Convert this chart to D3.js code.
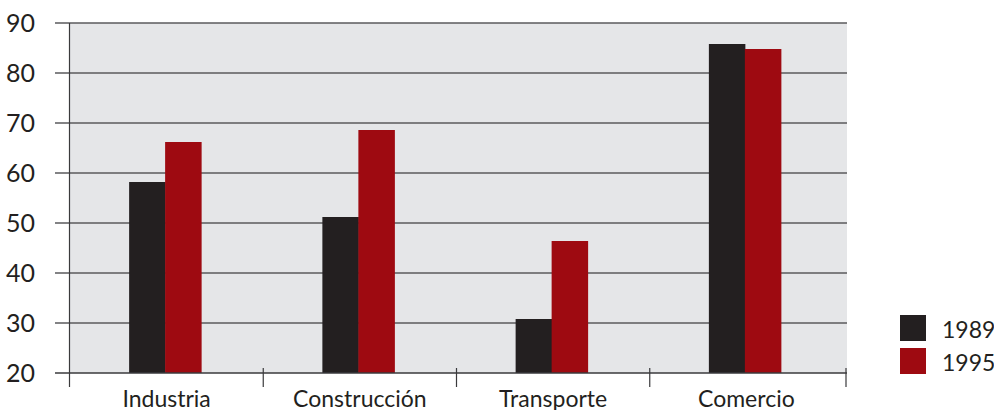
<!DOCTYPE html>
<html>
<head>
<meta charset="utf-8">
<script src="https://cdn.jsdelivr.net/npm/d3@7"></script>
<style>
  html, body { margin: 0; padding: 0; background: white; }
  svg { display: block; }
</style>
</head>
<body>
<div id="chart"></div>
<script>
var
  categories = ["Industria", "Construcción", "Transporte", "Comercio"],
  seriesNames = ["1989", "1995"],
  values1989 = [58.2, 51.2, 30.8, 85.8],
  values1995 = [66.2, 68.6, 46.4, 84.8],
  yTicks = [20, 30, 40, 50, 60, 70, 80, 90];

var
  WIDTH = 994,
  HEIGHT = 410,
  PLOT_LEFT = 70,
  PLOT_RIGHT = 847,
  PLOT_TOP = 23,
  PLOT_BOTTOM = 373,
  // groups are slightly narrower than a quarter of the plot
  GROUP_RIGHT = 843,
  GROUP_WIDTH = 72,
  TEXT_COLOR = "#231f20",
  GRID_COLOR = "#5a5a5c",
  AXIS_COLOR = "#3a3a3c",
  BG_COLOR = "#e5e6e8",
  COLORS = ["#231f20", "#9e0a11"],
  FONT = "Lato, 'Open Sans', sans-serif";

var series = [values1989, values1995];

var svg = d3.select("#chart").append("svg")
  .attr("width", WIDTH)
  .attr("height", HEIGHT);

var x0 = d3.scaleBand()
  .domain(categories)
  .range([PLOT_LEFT, GROUP_RIGHT]);

var x1 = d3.scaleBand()
  .domain(seriesNames)
  .range([0, GROUP_WIDTH]);

var y = d3.scaleLinear()
  .domain([20, 90])
  .range([PLOT_BOTTOM, PLOT_TOP]);

// background of the plot
svg.append("rect")
  .attr("x", PLOT_LEFT)
  .attr("y", PLOT_TOP)
  .attr("width", PLOT_RIGHT - PLOT_LEFT)
  .attr("height", PLOT_BOTTOM - PLOT_TOP)
  .attr("fill", BG_COLOR);

// gridlines with labels
var grid = svg.append("g");
yTicks.forEach(function(t){
  if (t === 20) return;
  grid.append("line")
    .attr("x1", 55)
    .attr("x2", PLOT_RIGHT)
    .attr("y1", y(t))
    .attr("y2", y(t))
    .attr("stroke", GRID_COLOR)
    .attr("stroke-width", 1.6);
});

yTicks.forEach(function(t){
  svg.append("text")
    .attr("x", 6)
    .attr("y", y(t) + 9)
    .attr("font-family", FONT)
    .attr("font-size", 25)
    .attr("fill", TEXT_COLOR)
    .text(t);
});

// bars
series.forEach(function(values, s){
  var g = svg.append("g").attr("fill", COLORS[s]);
  categories.forEach(function(cat, i){
    var offset = (x0.bandwidth() - GROUP_WIDTH) / 2 - 1.5;
    g.append("rect")
      .attr("x", x0(cat) + offset + x1(seriesNames[s]))
      .attr("y", y(values[i]))
      .attr("width", x1.bandwidth() + 0.5)
      .attr("height", y(20) - y(values[i]));
  });
});

// axes
svg.append("line")
  .attr("x1", 55).attr("x2", PLOT_RIGHT)
  .attr("y1", PLOT_BOTTOM).attr("y2", PLOT_BOTTOM)
  .attr("stroke", AXIS_COLOR).attr("stroke-width", 1.3);

svg.append("line")
  .attr("x1", PLOT_LEFT - 0.5).attr("x2", PLOT_LEFT - 0.5)
  .attr("y1", PLOT_TOP).attr("y2", 387)
  .attr("stroke", AXIS_COLOR).attr("stroke-width", 1.2);

categories.forEach(function(cat, i){
  if (i === 0) return;
  svg.append("line")
    .attr("x1", x0(cat)).attr("x2", x0(cat))
    .attr("y1", 368).attr("y2", 387)
    .attr("stroke", AXIS_COLOR).attr("stroke-width", 1.2);
});
svg.append("line")
  .attr("x1", PLOT_RIGHT - 1).attr("x2", PLOT_RIGHT - 1)
  .attr("y1", 368).attr("y2", 387)
  .attr("stroke", AXIS_COLOR).attr("stroke-width", 1.2);

categories.forEach(function(cat){
  svg.append("text")
    .attr("x", x0(cat) + x0.bandwidth() / 2)
    .attr("y", 407)
    .attr("text-anchor", "middle")
    .attr("font-family", FONT)
    .attr("font-size", 23)
    .attr("fill", TEXT_COLOR)
    .text(cat);
});

// legend
seriesNames.forEach(function(name, s){
  var top = 315 + s * 33;
  svg.append("rect")
    .attr("x", 900).attr("y", top)
    .attr("width", 26).attr("height", 26)
    .attr("fill", COLORS[s]);
  svg.append("text")
    .attr("x", 942).attr("y", top + 23)
    .attr("font-family", FONT)
    .attr("font-size", 23)
    .attr("fill", TEXT_COLOR)
    .text(name);
});
</script>
</body>
</html>
